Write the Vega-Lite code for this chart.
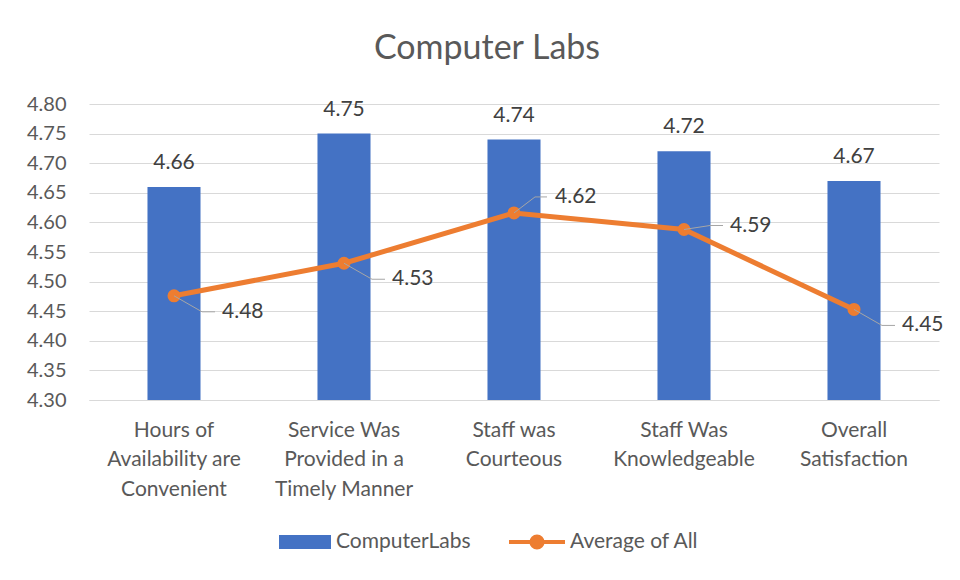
{
  "$schema": "https://vega.github.io/schema/vega-lite/v6.json",
  "width": 850,
  "height": 296,
  "autosize": "none",
  "padding": {"left": 89, "top": 104, "right": 21, "bottom": 180},
  "background": "white",
  "title": {"text": "Computer Labs", "fontSize": 34, "font": "Lato", "fontWeight": "normal", "color": "#595959", "anchor": "middle", "dx": -27, "offset": 28},
  "config": {"view": {"stroke": null}, "font": "Lato"},
  "resolve": {"axis": {"y": "independent"}},
  "data": {"values": [
    {"category": "Hours of Availability are Convenient", "ComputerLabs": 4.66, "AverageOfAll": 4.476},
    {"category": "Service Was Provided in a Timely Manner", "ComputerLabs": 4.75, "AverageOfAll": 4.531},
    {"category": "Staff was Courteous", "ComputerLabs": 4.74, "AverageOfAll": 4.616},
    {"category": "Staff Was Knowledgeable", "ComputerLabs": 4.72, "AverageOfAll": 4.588},
    {"category": "Overall Satisfaction", "ComputerLabs": 4.67, "AverageOfAll": 4.453}
  ]},
  "encoding": {
    "x": {
      "field": "category", "type": "nominal", "sort": null,
      "scale": {"paddingInner": 0.688, "paddingOuter": 0.344},
      "axis": {
        "title": null, "labelAngle": 0, "ticks": false, "domain": true, "domainColor": "#D9D9D9", "grid": false,
        "labelFontSize": 21, "labelColor": "#595959", "labelPadding": 19, "labelLineHeight": 29.5, "labelBaseline": "top", "labelLimit": 300,
        "labelExpr": "datum.label == 'Hours of Availability are Convenient' ? ['Hours of', 'Availability are', 'Convenient'] : datum.label == 'Service Was Provided in a Timely Manner' ? ['Service Was', 'Provided in a', 'Timely Manner'] : datum.label == 'Staff was Courteous' ? ['Staff was', 'Courteous'] : datum.label == 'Staff Was Knowledgeable' ? ['Staff Was', 'Knowledgeable'] : ['Overall', 'Satisfaction']"
      }
    }
  },
  "layer": [
    {
      "mark": {"type": "bar"},
      "encoding": {
        "y": {"field": "ComputerLabs", "type": "quantitative", "title": null, "scale": {"domain": [4.3, 4.8], "zero": false, "nice": false},
          "axis": {"title": null, "values": [4.3, 4.35, 4.4, 4.45, 4.5, 4.55, 4.6, 4.65, 4.7, 4.75, 4.8], "format": ".2f", "labelOverlap": false, "grid": true, "gridColor": "#D9D9D9", "gridWidth": 1, "domain": false, "ticks": false, "labelFontSize": 20, "labelColor": "#595959", "labelPadding": 23}},
        "y2": {"datum": 4.3},
        "fill": {"datum": "ComputerLabs", "scale": {"range": ["#4472C4"]},
          "legend": {"orient": "none", "legendX": 190, "legendY": 412, "title": null, "padding": 0, "symbolType": "M-1,-0.27H1V0.27H-1Z", "symbolSize": 2704, "symbolStrokeWidth": 0, "labelFontSize": 21, "labelColor": "#595959", "labelOffset": 5}}
      }
    },
    {
      "mark": {"type": "text", "baseline": "alphabetic", "align": "center", "dy": -18, "fontSize": 21, "color": "#404040"},
      "encoding": {
        "y": {"field": "ComputerLabs", "type": "quantitative", "axis": null},
        "text": {"field": "ComputerLabs", "type": "quantitative", "format": ".2f"}
      }
    },
    {
      "mark": {"type": "line", "strokeWidth": 5},
      "encoding": {
        "y": {"field": "AverageOfAll", "type": "quantitative", "axis": null},
        "stroke": {"datum": "Average of All", "scale": {"range": ["#ED7D31"]},
          "legend": {"orient": "none", "legendX": 418, "legendY": 408, "title": null, "padding": 0, "symbolType": "M-1,0H1M0.2,0A0.2,0.2,0,1,1,-0.2,0A0.2,0.2,0,1,1,0.2,0", "symbolSize": 3136, "symbolStrokeWidth": 4, "symbolFillColor": "#ED7D31", "labelFontSize": 21, "labelColor": "#595959", "labelOffset": 3}}
      }
    },
    {
      "mark": {"type": "point", "filled": true, "size": 170, "opacity": 1, "color": "#ED7D31"},
      "encoding": {"y": {"field": "AverageOfAll", "type": "quantitative", "axis": null}}
    },
    {
      "transform": [{"filter": {"field": "category", "oneOf": ["Hours of Availability are Convenient", "Service Was Provided in a Timely Manner", "Overall Satisfaction"]}}],
      "layer": [
        {"mark": {"type": "rule", "color": "#A6A6A6", "strokeWidth": 1, "x2Offset": 28, "y2Offset": 16},
         "encoding": {"y": {"field": "AverageOfAll", "type": "quantitative", "axis": null}, "x2": {"field": "category"}, "y2": {"field": "AverageOfAll"}}},
        {"mark": {"type": "rule", "color": "#A6A6A6", "strokeWidth": 1, "xOffset": 28, "yOffset": 16, "x2Offset": 41, "y2Offset": 16},
         "encoding": {"y": {"field": "AverageOfAll", "type": "quantitative", "axis": null}, "x2": {"field": "category"}, "y2": {"field": "AverageOfAll"}}},
        {"mark": {"type": "text", "align": "left", "baseline": "middle", "dx": 48, "dy": 16, "fontSize": 21, "color": "#404040"},
         "encoding": {"y": {"field": "AverageOfAll", "type": "quantitative", "axis": null}, "text": {"field": "AverageOfAll", "type": "quantitative", "format": ".2f"}}}
      ]
    },
    {
      "transform": [{"filter": {"field": "category", "equal": "Staff was Courteous"}}],
      "layer": [
        {"mark": {"type": "rule", "color": "#A6A6A6", "strokeWidth": 1, "x2Offset": 21, "y2Offset": -16},
         "encoding": {"y": {"field": "AverageOfAll", "type": "quantitative", "axis": null}, "x2": {"field": "category"}, "y2": {"field": "AverageOfAll"}}},
        {"mark": {"type": "rule", "color": "#A6A6A6", "strokeWidth": 1, "xOffset": 21, "yOffset": -16, "x2Offset": 33, "y2Offset": -16},
         "encoding": {"y": {"field": "AverageOfAll", "type": "quantitative", "axis": null}, "x2": {"field": "category"}, "y2": {"field": "AverageOfAll"}}},
        {"mark": {"type": "text", "align": "left", "baseline": "middle", "dx": 41, "dy": -16, "fontSize": 21, "color": "#404040"},
         "encoding": {"y": {"field": "AverageOfAll", "type": "quantitative", "axis": null}, "text": {"field": "AverageOfAll", "type": "quantitative", "format": ".2f"}}}
      ]
    },
    {
      "transform": [{"filter": {"field": "category", "equal": "Staff Was Knowledgeable"}}],
      "layer": [
        {"mark": {"type": "rule", "color": "#A6A6A6", "strokeWidth": 1, "x2Offset": 26, "y2Offset": -4},
         "encoding": {"y": {"field": "AverageOfAll", "type": "quantitative", "axis": null}, "x2": {"field": "category"}, "y2": {"field": "AverageOfAll"}}},
        {"mark": {"type": "rule", "color": "#A6A6A6", "strokeWidth": 1, "xOffset": 26, "yOffset": -4, "x2Offset": 39, "y2Offset": -4},
         "encoding": {"y": {"field": "AverageOfAll", "type": "quantitative", "axis": null}, "x2": {"field": "category"}, "y2": {"field": "AverageOfAll"}}},
        {"mark": {"type": "text", "align": "left", "baseline": "middle", "dx": 46, "dy": -4, "fontSize": 21, "color": "#404040"},
         "encoding": {"y": {"field": "AverageOfAll", "type": "quantitative", "axis": null}, "text": {"field": "AverageOfAll", "type": "quantitative", "format": ".2f"}}}
      ]
    }
  ]
}
